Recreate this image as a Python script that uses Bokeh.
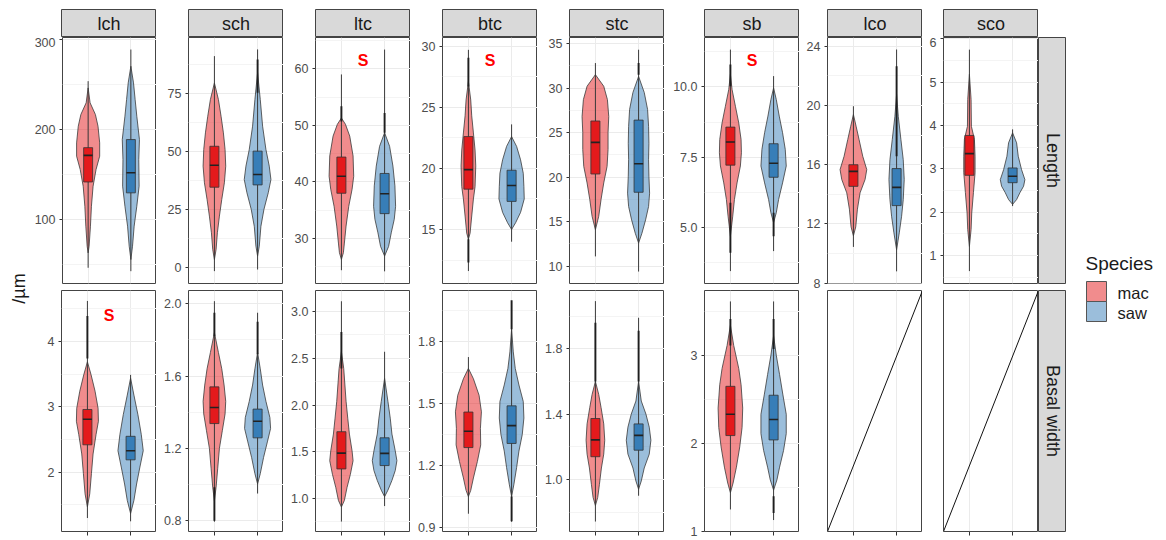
import math
from bokeh.plotting import figure
from bokeh.layouts import row, column
from bokeh.models import FixedTicker, PrintfTickFormatter, Range1d, Spacer, LinearAxis
from bokeh.core.properties import value
from bokeh.embed import file_html
from bokeh.resources import INLINE

# ---------------- data ----------------
traits = ["lch", "sch", "ltc", "btc", "stc", "sb", "lco", "sco"]
measures = ["Length", "Basal width"]
species = ["mac", "saw"]
legend_title = "Species"
y_title = "/µm"

# axis limits per panel
len_lo = [28.8, -7.05, 22.05, 10.58, 8.06, 3.02, 7.98, 0.354]
len_hi = [302.6, 99.35, 65.53, 30.71, 35.67, 11.75, 24.59, 6.03]
wid_lo = [1.094, 0.74, 0.648, 0.881, 0.681, 1.0, None, None]
wid_hi = [4.78, 2.073, 3.225, 2.047, 2.157, 3.734, None, None]

# tick labels per panel
len_ticks = [["100", "200", "300"], ["0", "25", "50", "75"], ["30", "40", "50", "60"],
             ["15", "20", "25", "30"], ["10", "15", "20", "25", "30", "35"],
             ["5.0", "7.5", "10.0"], ["8", "12", "16", "20", "24"], ["1", "2", "3", "4", "5", "6"]]
wid_ticks = [["2", "3", "4"], ["0.8", "1.2", "1.6", "2.0"], ["1.0", "1.5", "2.0", "2.5", "3.0"],
             ["0.9", "1.2", "1.5", "1.8"], ["1.0", "1.4", "1.8"], ["1", "2", "3"], [], []]

# box statistics
len_mac_q1 = [141.8, 34.6, 38.0, 18.3, 20.35, 7.22, 14.54, 2.85]
len_mac_med = [171.4, 44.1, 41.0, 19.9, 23.9, 8.04, 15.55, 3.35]
len_mac_q3 = [180.0, 52.3, 44.4, 22.6, 26.3, 8.57, 16.0, 3.77]
len_mac_min = [46.3, -1.7, 24.4, 11.6, 11.1, 3.46, 10.45, 0.64]
len_mac_max = [254.0, 91.3, 59.0, 29.7, 32.8, 11.32, 19.95, 5.75]
len_saw_q1 = [129.7, 35.6, 34.4, 17.3, 18.3, 6.79, 13.24, 2.68]
len_saw_med = [152.0, 40.1, 37.9, 18.6, 21.5, 7.29, 14.47, 2.83]
len_saw_q3 = [189.0, 50.2, 41.5, 19.85, 26.4, 7.98, 15.74, 3.02]
len_saw_min = [42.5, -1.0, 24.2, 14.0, 9.4, 4.17, 8.8, 2.14]
len_saw_max = [289.2, 94.2, 63.4, 23.6, 34.3, 10.38, 23.78, 3.91]
wid_mac_q1 = [2.42, 1.337, 1.317, 1.287, 1.139, 2.088, None, None]
wid_mac_med = [2.81, 1.426, 1.486, 1.366, 1.242, 2.33, None, None]
wid_mac_q3 = [2.96, 1.54, 1.715, 1.459, 1.373, 2.647, None, None]
wid_mac_min = [1.30, 0.794, 0.754, 0.967, 0.742, 1.25, None, None]
wid_mac_max = [4.62, 2.014, 3.11, 1.725, 2.092, 3.61, None, None]
wid_saw_q1 = [2.19, 1.258, 1.353, 1.307, 1.179, 2.039, None, None]
wid_saw_med = [2.33, 1.35, 1.483, 1.393, 1.27, 2.27, None, None]
wid_saw_q3 = [2.55, 1.417, 1.65, 1.489, 1.34, 2.546, None, None]
wid_saw_min = [1.25, 0.95, 0.92, 0.928, 0.90, 1.13, None, None]
wid_saw_max = [3.49, 1.95, 2.57, 1.996, 1.99, 3.61, None, None]

# stacked outlier stretches (value ranges)
out_measure = ["Length", "Length", "Length", "Length", "Length", "Length", "Length", "Length",
               "Length", "Length", "Basal width", "Basal width", "Basal width", "Basal width",
               "Basal width", "Basal width", "Basal width", "Basal width", "Basal width",
               "Basal width", "Basal width", "Basal width"]
out_trait = ["sch", "ltc", "ltc", "btc", "btc", "stc", "sb", "sb", "sb", "lco",
             "lch", "sch", "sch", "sch", "ltc", "btc", "btc", "stc", "stc", "sb", "sb", "sb"]
out_species = ["saw", "mac", "saw", "mac", "mac", "saw", "mac", "mac", "saw", "saw",
               "mac", "mac", "mac", "saw", "mac", "saw", "saw", "mac", "saw", "mac", "saw", "saw"]
out_lo = [75.4, 50.7, 48.7, 26.7, 12.3, 31.5, 10.02, 4.11, 4.70, 16.57,
          3.74, 1.82, 0.80, 1.72, 2.39, 1.86, 0.93, 1.60, 1.60, 3.11, 3.07, 1.21]
out_hi = [89.8, 53.4, 52.2, 29.05, 14.2, 32.8, 10.79, 5.89, 5.53, 22.65,
          4.39, 1.95, 0.985, 1.90, 2.78, 2.0, 1.05, 1.96, 1.91, 3.41, 3.41, 1.40]

# significance marks
sig_measure = ["Length", "Length", "Length", "Basal width"]
sig_trait = ["ltc", "btc", "sb", "lch"]
sig_y = [61.5, 28.8, 10.93, 4.39]
sig_label = "S"

# violin profiles (value, half-width) -- Length
L_lch_mac_y = [246.5, 229.9, 216.9, 203.9, 185.3, 170.5, 155.6, 137.1, 114.8, 92.6, 70.3, 62.9]
L_lch_mac_w = [0, .046, .170, .231, .270, .270, .185, .116, .077, .054, .023, 0]
L_lch_saw_y = [270.6, 252.1, 233.6, 215.0, 189.0, 166.8, 137.1, 114.8, 92.6, 70.3, 55.5]
L_lch_saw_w = [0, .062, .100, .139, .201, .185, .193, .139, .077, .039, 0]
L_sch_mac_y = [79.7, 72.5, 65.3, 58.1, 50.9, 43.7, 36.5, 29.3, 22.1, 14.9, 7.7, 3.3]
L_sch_mac_w = [0, .093, .154, .208, .247, .262, .231, .170, .116, .069, .039, 0]
L_sch_saw_y = [84.1, 72.5, 61.0, 50.9, 43.7, 37.9, 32.2, 25.0, 17.7, 9.1, 4.8]
L_sch_saw_w = [0, .062, .116, .193, .270, .309, .247, .147, .077, .039, 0]
L_ltc_mac_y = [51.3, 50.2, 48.1, 44.6, 41.0, 38.7, 35.7, 32.2, 29.2, 27.5, 26.3]
L_ltc_mac_w = [0, .093, .193, .270, .285, .247, .170, .108, .069, .046, 0]
L_ltc_saw_y = [48.7, 46.3, 42.8, 39.3, 35.7, 33.4, 31.0, 28.6, 26.9]
L_ltc_saw_w = [0, .116, .193, .239, .255, .224, .154, .093, 0]
L_btc_mac_y = [27.1, 25.6, 24.3, 22.9, 21.5, 20.2, 18.5, 17.5, 16.1, 14.7, 14.2]
L_btc_mac_w = [0, .054, .077, .116, .154, .170, .154, .116, .077, .039, 0]
L_btc_saw_y = [22.6, 21.8, 20.7, 19.6, 18.5, 17.5, 16.4, 15.55, 15.0]
L_btc_saw_w = [0, .116, .208, .270, .285, .293, .208, .093, 0]
L_stc_mac_y = [31.5, 30.2, 28.7, 26.8, 25.0, 23.1, 21.2, 19.35, 17.5, 15.6, 14.1]
L_stc_mac_w = [0, .193, .278, .309, .293, .293, .270, .193, .131, .077, 0]
L_stc_saw_y = [31.3, 29.5, 27.6, 25.7, 23.8, 22.0, 20.1, 18.2, 16.7, 15.2, 13.7, 12.6]
L_stc_saw_w = [0, .131, .208, .231, .239, .231, .239, .255, .231, .162, .077, 0]
L_sb_mac_y = [10.44, 9.90, 9.31, 8.72, 8.13, 7.66, 7.19, 6.59, 6.0, 5.41, 4.70]
L_sb_mac_w = [0, .039, .116, .193, .247, .255, .231, .154, .093, .054, 0]
L_sb_saw_y = [9.96, 9.55, 8.96, 8.37, 7.78, 7.19, 6.59, 6.0, 5.53, 5.18]
L_sb_saw_w = [0, .062, .131, .208, .270, .293, .208, .116, .062, 0]
L_lco_mac_y = [19.39, 18.6, 17.7, 16.57, 15.67, 15.0, 14.1, 13.0, 11.8, 11.2]
L_lco_mac_w = [0, .062, .131, .216, .309, .270, .154, .093, .054, 0]
L_lco_saw_y = [20.74, 19.27, 17.7, 16.34, 15.0, 13.64, 12.52, 11.4, 10.26]
L_lco_saw_w = [0, .039, .100, .154, .177, .154, .116, .062, 0]
L_sco_mac_y = [5.18, 4.60, 3.98, 3.68, 3.29, 2.91, 2.45, 1.98, 1.60, 1.21]
L_sco_mac_w = [0, .039, .046, .116, .131, .131, .093, .054, .039, 0]
L_sco_saw_y = [3.83, 3.60, 3.29, 2.98, 2.75, 2.60, 2.45, 2.29, 2.18]
L_sco_saw_w = [0, .093, .131, .208, .285, .255, .170, .093, 0]

# violin profiles -- Basal width
W_lch_mac_y = [3.69, 3.49, 3.24, 2.98, 2.78, 2.58, 2.28, 1.98, 1.67, 1.47]
W_lch_mac_w = [0, .085, .177, .247, .255, .201, .131, .093, .054, 0]
W_lch_saw_y = [3.44, 3.18, 2.88, 2.58, 2.33, 2.08, 1.82, 1.57, 1.37]
W_lch_saw_w = [0, .077, .170, .247, .293, .216, .139, .077, 0]
W_sch_mac_y = [1.84, 1.73, 1.64, 1.55, 1.46, 1.39, 1.30, 1.20, 1.09, 0.985, 0.91]
W_sch_mac_w = [0, .093, .170, .224, .262, .247, .185, .116, .077, .039, 0]
W_sch_saw_y = [1.73, 1.64, 1.55, 1.46, 1.37, 1.31, 1.24, 1.15, 1.06, 1.003]
W_sch_saw_w = [0, .062, .116, .193, .285, .301, .231, .139, .062, 0]
W_ltc_mac_y = [2.57, 2.39, 2.04, 1.86, 1.69, 1.51, 1.405, 1.26, 1.12, 0.98, 0.91]
W_ltc_mac_w = [0, .054, .108, .147, .185, .247, .270, .208, .131, .069, 0]
W_ltc_saw_y = [2.285, 2.04, 1.86, 1.69, 1.51, 1.405, 1.30, 1.194, 1.09, 1.02]
W_ltc_saw_w = [0, .077, .131, .170, .247, .285, .247, .170, .077, 0]
W_btc_mac_y = [1.67, 1.62, 1.54, 1.46, 1.38, 1.30, 1.22, 1.14, 1.08, 1.05]
W_btc_mac_w = [0, .116, .247, .301, .278, .285, .208, .116, .054, 0]
W_btc_saw_y = [1.86, 1.75, 1.67, 1.59, 1.51, 1.43, 1.35, 1.27, 1.19, 1.11, 1.05]
W_btc_saw_w = [0, .039, .085, .170, .270, .285, .247, .170, .116, .054, 0]
W_stc_mac_y = [1.60, 1.52, 1.44, 1.34, 1.24, 1.155, 1.07, 0.97, 0.89, 0.84]
W_stc_mac_w = [0, .077, .131, .193, .216, .193, .139, .093, .054, 0]
W_stc_saw_y = [1.60, 1.48, 1.40, 1.32, 1.24, 1.155, 1.07, 0.99, 0.94]
W_stc_saw_w = [0, .062, .170, .247, .285, .247, .131, .062, 0]
W_sb_mac_y = [3.34, 3.11, 2.85, 2.665, 2.40, 2.18, 1.96, 1.73, 1.55, 1.44]
W_sb_mac_w = [0, .077, .193, .247, .285, .270, .216, .139, .062, 0]
W_sb_saw_y = [3.22, 3.0, 2.78, 2.55, 2.33, 2.11, 1.92, 1.73, 1.585, 1.47]
W_sb_saw_w = [0, .062, .139, .216, .293, .293, .231, .139, .077, 0]

# ---------------- lookup tables built from the arrays ----------------
G = globals()
def violin(prefix, trait, sp):
    ky = f"{prefix}_{trait}_{sp}_y"
    if ky not in G:
        return None
    return G[ky], G[f"{prefix}_{trait}_{sp}_w"]

stats = {
    ("Length", "mac"): (len_mac_q1, len_mac_med, len_mac_q3, len_mac_min, len_mac_max),
    ("Length", "saw"): (len_saw_q1, len_saw_med, len_saw_q3, len_saw_min, len_saw_max),
    ("Basal width", "mac"): (wid_mac_q1, wid_mac_med, wid_mac_q3, wid_mac_min, wid_mac_max),
    ("Basal width", "saw"): (wid_saw_q1, wid_saw_med, wid_saw_q3, wid_saw_min, wid_saw_max),
}

# ---------------- styling / layout ----------------
FONT = "Liberation Sans"
COLORS = {"mac": "#E41A1C", "saw": "#377EB8"}
FW = 95
LEFTS = [30, 32, 32, 32, 32, 40, 28, 21]
YT_W = 31
TOP_PAD = 9
STRIP_H = 28
R1_FRAME, R1_BOT = 246, 7
R2_FRAME, R2_BOT = 241, 8
R1_H = R1_FRAME + R1_BOT
R2_H = R2_FRAME + R2_BOT
TOTAL_H = TOP_PAD + STRIP_H + R1_H + R2_H
BORDER = "#444444"
GRID = "#EBEBEB"
MINOR = "#F4F4F4"
BOX_HW = 0.105


def base_fig(width, height, xr, yr, left=0, right=0, top=0, bottom=0):
    p = figure(width=width, height=height, x_range=xr, y_range=yr,
               x_axis_location=None, y_axis_location=None,
               toolbar_location=None, output_backend="svg",
               min_border_left=left, min_border_right=right,
               min_border_top=top, min_border_bottom=bottom)
    p.background_fill_color = "white"
    p.border_fill_color = "white"
    return p


def strip_fig(label, left):
    s = base_fig(left + FW, TOP_PAD + STRIP_H, Range1d(0, 1), Range1d(0, 1), left=left, top=TOP_PAD)
    s.grid.visible = False
    s.background_fill_color = "#D9D9D9"
    s.outline_line_color = BORDER
    s.outline_line_width = 1
    s.text(x=[0.5], y=[0.47], text=[label], text_align="center", text_baseline="middle",
           text_font=value(FONT), text_font_size=value("18px"), text_color="#1A1A1A")
    return s


def panel_fig(ti, mi):
    trait = traits[ti]
    meas = measures[mi]
    L = LEFTS[ti]
    if mi == 0:
        lo, hi, labels = len_lo[ti], len_hi[ti], len_ticks[ti]
        h, bot = R1_H, R1_BOT
        prefix = "L"
    else:
        lo, hi, labels = wid_lo[ti], wid_hi[ti], wid_ticks[ti]
        h, bot = R2_H, R2_BOT
        prefix = "W"
    empty = lo is None
    yr = Range1d(0, 1) if empty else Range1d(lo, hi)
    xr = Range1d(0.4, 0.4 + 2.2)
    p = base_fig(L + FW, h, xr, yr, left=L, bottom=bot)
    p.outline_line_color = BORDER
    p.outline_line_width = 1

    xpos = [i + 1 for i in range(len(species))]
    p.xgrid[0].ticker = FixedTicker(ticks=xpos)
    p.xgrid[0].grid_line_color = GRID
    p.xgrid[0].grid_line_width = 1

    if empty:
        p.ygrid[0].visible = False
        p.line(x=[xr.start, xr.end], y=[yr.start, yr.end], line_color="#111111", line_width=1)
    else:
        ticks = [float(s) for s in labels]
        d = ticks[1] - ticks[0]
        minor = [ticks[0] - d / 2] + [(a + b) / 2 for a, b in zip(ticks[:-1], ticks[1:])] + [ticks[-1] + d / 2]
        tk = FixedTicker(ticks=ticks, minor_ticks=minor)
        fmt = "%.1f" if any("." in s for s in labels) else "%d"
        p.ygrid[0].ticker = tk
        p.ygrid[0].grid_line_color = GRID
        p.ygrid[0].minor_grid_line_color = MINOR
        ax = LinearAxis(ticker=tk, formatter=PrintfTickFormatter(format=fmt))
        ax.major_label_text_font = FONT
        ax.major_label_text_font_size = "12.5px"
        ax.major_label_text_color = "#4D4D4D"
        ax.axis_line_color = None
        ax.major_tick_line_color = "#333333"
        ax.major_tick_out = 3
        ax.major_tick_in = 0
        ax.minor_tick_line_color = None
        ax.major_label_standoff = 3
        p.add_layout(ax, "left")

        # violins
        for si, sp in enumerate(species):
            v = violin(prefix, trait, sp)
            if v is None:
                continue
            ys, ws = v
            c = xpos[si]
            px = [c + w for w in ws] + [c - w for w in reversed(ws)]
            py = list(ys) + list(reversed(ys))
            p.patch(px, py, fill_color=COLORS[sp], fill_alpha=0.5,
                    line_color="#3A3A3A", line_width=0.8)
        # boxplots with whisker/outlier line
        for si, sp in enumerate(species):
            q1, med, q3, mn, mx = [arr[ti] for arr in stats[(meas, sp)]]
            c = xpos[si]
            p.segment(x0=[c], y0=[mn], x1=[c], y1=[mx], line_color="#3A3A3A", line_width=1)
            for om, ot, osp, olo, ohi in zip(out_measure, out_trait, out_species, out_lo, out_hi):
                if om == meas and ot == trait and osp == sp:
                    p.segment(x0=[c], y0=[olo], x1=[c], y1=[ohi], line_color="#1E1E1E", line_width=1.9)
            p.quad(left=[c - BOX_HW], right=[c + BOX_HW], bottom=[q1], top=[q3],
                   fill_color=COLORS[sp], line_color="#333333", line_width=0.8)
            p.segment(x0=[c - BOX_HW], y0=[med], x1=[c + BOX_HW], y1=[med],
                      line_color="#222222", line_width=1.6)
        # significance marks
        for sm, st, sy in zip(sig_measure, sig_trait, sig_y):
            if sm == meas and st == trait:
                p.text(x=[(xpos[0] + xpos[-1]) / 2], y=[sy], text=[sig_label],
                       text_align="center", text_baseline="middle",
                       text_font=value(FONT), text_font_size=value("16px"),
                       text_font_style="bold", text_color="#FF0000")

    if mi == 1:
        xa = LinearAxis(ticker=FixedTicker(ticks=xpos))
        xa.major_label_text_font_size = "1px"
        xa.major_label_text_alpha = 0
        xa.major_label_standoff = 0
        xa.axis_line_color = None
        xa.major_tick_line_color = "#333333"
        xa.major_tick_out = 4
        xa.major_tick_in = 0
        xa.minor_tick_line_color = None
        p.add_layout(xa, "below")
    return p


strip_row = row([strip_fig(t, LEFTS[i]) for i, t in enumerate(traits)], spacing=0)
row1 = row([panel_fig(i, 0) for i in range(len(traits))], spacing=0)
row2 = row([panel_fig(i, 1) for i in range(len(traits))], spacing=0)
grid_col = column([strip_row, row1, row2], spacing=0)

# y title
yt = base_fig(YT_W, TOTAL_H, Range1d(0, 1), Range1d(0, 1))
yt.grid.visible = False
yt.outline_line_color = None
yt.text(x=[0.6], y=[(TOTAL_H - 288) / TOTAL_H], text=[y_title], angle=math.pi / 2, text_align="center",
        text_baseline="middle", text_font=value(FONT), text_font_size=value("18px"),
        text_color="#1A1A1A")

# right strips
def rstrip(label, height, bottom):
    s = base_fig(28, height, Range1d(0, 1), Range1d(0, 1), bottom=bottom)
    s.grid.visible = False
    s.background_fill_color = "#D9D9D9"
    s.outline_line_color = BORDER
    s.text(x=[0.5], y=[0.5], text=[label], angle=-math.pi / 2, text_align="center",
           text_baseline="middle", text_font=value(FONT), text_font_size=value("18px"),
           text_color="#1A1A1A")
    return s

rcol = column([Spacer(width=28, height=TOP_PAD + STRIP_H),
               rstrip(measures[0], R1_H, R1_BOT),
               rstrip(measures[1], R2_H, R2_BOT)], spacing=0)

# legend
LEG_W = 98
lg = base_fig(LEG_W, TOTAL_H, Range1d(0, LEG_W), Range1d(TOTAL_H, 0))
lg.grid.visible = False
lg.outline_line_color = None
lg.text(x=[19], y=[263], text=[legend_title], text_align="left", text_baseline="middle",
        text_font=value(FONT), text_font_size=value("19px"), text_color="#1A1A1A")
for i, sp in enumerate(species):
    lg.quad(left=[20], right=[40], top=[281 + 20 * i], bottom=[301 + 20 * i],
            fill_color=COLORS[sp], fill_alpha=0.5, line_color="#555555", line_width=1)
    lg.text(x=[51], y=[292 + 20 * i], text=[sp], text_align="left", text_baseline="middle",
            text_font=value(FONT), text_font_size=value("16.5px"), text_color="#1A1A1A")

layout = row([yt, grid_col, rcol, lg], spacing=0)

with open("out.html", "w") as f:
    f.write(file_html(layout, INLINE))
